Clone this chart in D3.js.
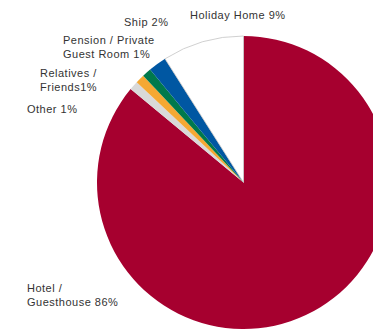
<!DOCTYPE html>
<html>
<head>
<meta charset="utf-8">
<script src="https://cdn.jsdelivr.net/npm/d3@7/dist/d3.min.js"></script>
<style>
  html, body { margin: 0; padding: 0; background: #fff; }
  svg { display: block; }
  text { font-family: "Liberation Sans", Arial, sans-serif; font-size: 11px; fill: #333; letter-spacing: 0.5px; }
</style>
</head>
<body>
<svg id="chart" width="373" height="331"></svg>
<script>
// Accommodation type shares, clockwise from 12 o'clock
const categories = ["Hotel / Guesthouse", "Other", "Relatives / Friends", "Pension / Private Guest Room", "Ship", "Holiday Home"];
const shares = [86, 1, 1, 1, 2, 9];
const labelLines = [
  ["Hotel /", "Guesthouse 86%"],
  ["Other 1%"],
  ["Relatives /", "Friends1%"],
  ["Pension / Private", "Guest Room 1%"],
  ["Ship 2%"],
  ["Holiday Home 9%"]
];
const colors = ["#a6002f", "#d9d9d9", "#f5a833", "#00794c", "#0057a2", "#ffffff"];

const svg = d3.select("#chart");
const cx = 243.5, cy = 182.5, radius = 146.5;

const data = categories.map((c, i) => ({ name: c, value: shares[i], lines: labelLines[i], color: colors[i] }));

const pie = d3.pie().sort(null).value(d => d.value).startAngle(0).endAngle(2 * Math.PI);
const arc = d3.arc().innerRadius(0).outerRadius(radius);

const g = svg.append("g").attr("transform", `translate(${cx},${cy})`);
g.selectAll("path")
  .data(pie(data))
  .join("path")
  .attr("d", arc)
  .attr("fill", d => d.data.color)
  .attr("stroke", d => d.data.color === "#ffffff" ? "#c4c4c4" : "none")
  .attr("stroke-width", 0.8);

// Label anchor points (left edge of first line baseline)
const labelPos = [
  [27, 292],
  [27, 113],
  [40, 77],
  [63, 44],
  [124, 26],
  [190, 19]
];

const lineH = 14;
data.forEach((d, i) => {
  const t = svg.append("text")
    .attr("x", labelPos[i][0])
    .attr("y", labelPos[i][1]);
  d.lines.forEach((ln, j) => {
    t.append("tspan")
      .attr("x", labelPos[i][0])
      .attr("dy", j === 0 ? 0 : lineH)
      .text(ln);
  });
});
</script>
</body>
</html>
